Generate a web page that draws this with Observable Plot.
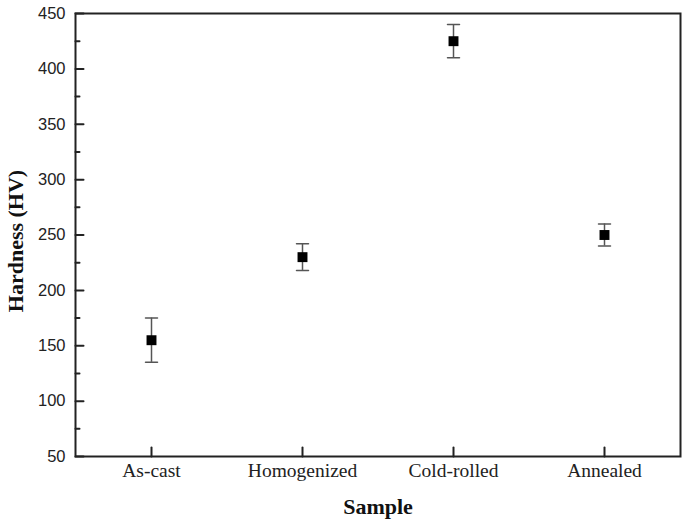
<!DOCTYPE html>
<html><head><meta charset="utf-8">
<script src="https://cdn.jsdelivr.net/npm/d3@7"></script>
<script src="https://cdn.jsdelivr.net/npm/@observablehq/plot@0.6"></script>
<style>body{margin:0;background:#fff}</style>
</head><body><div id="chart"></div>
<script>
const samples = ["As-cast", "Homogenized", "Cold-rolled", "Annealed"];
const hardness = [155, 230, 425, 250];
const errors = [20, 12, 15, 10];
const majorTicks = [50, 100, 150, 200, 250, 300, 350, 400, 450];
const minorTicks = [75, 125, 175, 225, 275, 325, 375, 425];

const data = samples.map((s, i) => ({sample: s, v: hardness[i], e: errors[i]}));
const hline = {draw(ctx, l) { ctx.moveTo(-l/2, 0); ctx.lineTo(l/2, 0); }};
const tickShape = {draw(ctx, l) { ctx.moveTo(0, 0); ctx.lineTo(0, -l); }};

const chart = Plot.plot({
  width: 685, height: 524,
  marginLeft: 75, marginRight: 5, marginTop: 13, marginBottom: 68,
  x: {type: "point", domain: samples, padding: 0.5},
  y: {domain: [50, 450]},
  style: {background: "#fff"},
  marks: [
    Plot.frame({stroke: "#222", strokeWidth: 2}),
    // y tick labels
    Plot.axisY({ticks: majorTicks, tickSize: 0, tickPadding: 10, label: null,
      fontFamily: "Liberation Sans, Arial, sans-serif", fontSize: 16.5, fill: "#222"}),
    // inward ticks
    Plot.vector(majorTicks, {y: d => d, frameAnchor: "left", rotate: 90, length: 8, shape: tickShape, anchor: "start", stroke: "#222", strokeWidth: 2}),
    Plot.vector(minorTicks, {y: d => d, frameAnchor: "left", rotate: 90, length: 4, shape: tickShape, anchor: "start", stroke: "#222", strokeWidth: 2}),
    Plot.vector(samples, {x: d => d, frameAnchor: "bottom", rotate: 0, length: 9, shape: tickShape, anchor: "start", stroke: "#222", strokeWidth: 2}),
    // x tick labels
    Plot.axisX({tickSize: 0, tickPadding: 7, label: null,
      fontFamily: "Liberation Serif, Times New Roman, serif", fontSize: 19.5, fill: "#222"}),
    // axis titles
    Plot.text(["Hardness (HV)"], {frameAnchor: "left", textAnchor: "middle", dx: -60, dy: 6, rotate: -90,
      fontFamily: "Liberation Serif, Times New Roman, serif", fontWeight: "bold", fontSize: 22, fill: "#111"}),
    Plot.text(["Sample"], {frameAnchor: "bottom", dy: 57,
      fontFamily: "Liberation Serif, Times New Roman, serif", fontWeight: "bold", fontSize: 22, fill: "#111"}),
    // error bars
    Plot.ruleX(data, {x: "sample", y1: d => d.v - d.e, y2: d => d.v + d.e, stroke: "#555", strokeWidth: 1.5}),
    Plot.vector(data, {x: "sample", y: d => d.v - d.e, length: 12, rotate: 0, anchor: "start", shape: hline, stroke: "#555", strokeWidth: 1.5}),
    Plot.vector(data, {x: "sample", y: d => d.v + d.e, length: 12, rotate: 0, anchor: "start", shape: hline, stroke: "#555", strokeWidth: 1.5}),
    // points
    Plot.dot(data, {x: "sample", y: "v", symbol: "square", r: 5.6, fill: "#000", stroke: "none"})
  ]
});
document.getElementById("chart").append(chart);
</script>
</body></html>
